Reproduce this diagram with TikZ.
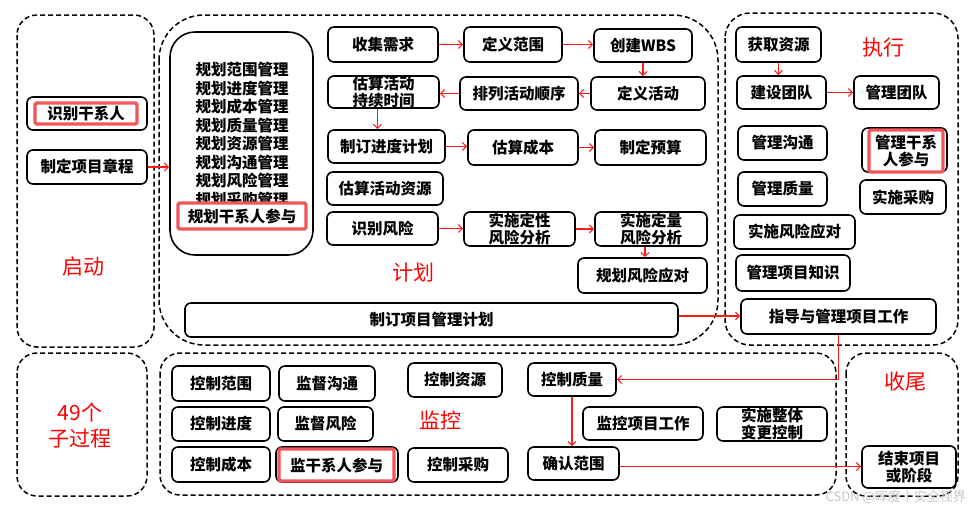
\documentclass[tikz,border=0pt]{standalone}
\usepackage{fontspec}
\setmainfont{Noto Sans CJK SC}
\usetikzlibrary{arrows.meta}
\definecolor{hlred}{HTML}{F0565A}
\definecolor{arr}{HTML}{FF1A1A}
\newcommand\fs{\fontsize{15.5}{17}\selectfont\bfseries}
\newcommand\mybox[7]{\node[#1, minimum width={#5-#3}, minimum height={#6-#4}] (#2) at ({(#3+#5)/2},{(#4+#6)/2}) {#7};}
\tikzset{
  box/.style={draw=black, line width=1.6pt, rounded corners=6pt, inner sep=0pt, align=center, font=\fs},
  hl/.style={draw=hlred, line width=3.2pt, rounded corners=1.5pt, fill=white, inner sep=0pt, align=center, font=\fs},
  frame/.style={draw=black, line width=1.6pt, rounded corners=6pt, inner sep=0pt},
  grp/.style={draw=black, line width=1.5pt, dash pattern=on 5pt off 3pt},
  lbl/.style={text=red, font=\fontsize{21}{25}\selectfont},
  arrow/.style={draw=arr, line width=1.1pt, -{Straight Barb[length=4pt,width=8pt]}},
}
\begin{document}
\begin{tikzpicture}[x=1pt, y=-1pt]
\useasboundingbox (0,0) rectangle (969,504);
\fill[white] (0,0) rectangle (969,504);

% ---------- groups ----------
\draw[grp, rounded corners=20pt] (17,15) rectangle (154,347);
\draw[grp, rounded corners=45pt] (159,15) rectangle (718,345);
\draw[grp, rounded corners=25pt] (725,13) rectangle (958,345);
\draw[grp, rounded corners=20pt] (17,353) rectangle (147,496);
\draw[grp, rounded corners=20pt] (160,353) rectangle (836,495);
\draw[grp, rounded corners=20pt] (846,353) rectangle (958,496);

% ---------- labels ----------
\node[lbl] (lstart) at (83,267) {启动};
\node[lbl] (lplan) at (413,273) {计划};
\node[lbl] (lexec) at (883,48) {执行};
\node[lbl, align=center, font=\fontsize{21}{26}\selectfont] (l49) at (80,426) {49个\\子过程};
\node[lbl] (lmon) at (440,420) {监控};
\node[lbl] (lclose) at (905,382) {收尾};

% ---------- start ----------
\mybox{frame}{s1f}{27}{97}{147}{130}{}
\mybox{hl}{s1}{35}{103}{137}{124}{识别干系人}
\mybox{box}{s2}{27}{150}{147}{184}{制定项目章程}

% ---------- planning ----------
\node[frame, minimum width=143, minimum height=223, rounded corners=25pt] (plist) at (241.5,143.5) {};
\node[align=center, inner sep=0pt, font=\fontsize{15.5}{18.5}\selectfont\bfseries] (plisttext) at (242,134.5)
  {规划范围管理\\规划进度管理\\规划成本管理\\规划质量管理\\规划资源管理\\规划沟通管理\\规划风险管理\\规划采购管理};
\mybox{hl}{ph}{178}{203}{306}{229}{规划干系人参与}

\mybox{box}{p1}{328}{27}{438}{62}{收集需求}
\mybox{box}{p2}{464}{27}{562}{62}{定义范围}
\mybox{box}{p3}{594}{29}{692}{62}{创建WBS}
\mybox{box}{p4}{328}{76}{439}{108}{估算活动\\持续时间}
\mybox{box}{p5}{460}{77}{578}{110}{排列活动顺序}
\mybox{box}{p6}{591}{77}{705}{110}{定义活动}
\mybox{box}{p7}{328}{130}{445}{163}{制订进度计划}
\mybox{box}{p8}{468}{130}{578}{165}{估算成本}
\mybox{box}{p9}{595}{130}{706}{165}{制定预算}
\mybox{box}{p10}{327}{172}{443}{205}{估算活动资源}
\mybox{box}{p11}{327}{212}{438}{245}{识别风险}
\mybox{box}{p12}{464}{212}{575}{246}{实施定性\\风险分析}
\mybox{box}{p13}{595}{212}{707}{246}{实施定量\\风险分析}
\mybox{box}{p14}{578}{258}{707}{293}{规划风险应对}
\mybox{box}{p15}{185}{303}{678}{337}{制订项目管理计划}

% ---------- execution ----------
\mybox{box}{e1}{736}{27}{821}{62}{获取资源}
\mybox{box}{e2}{737}{76}{826}{109}{建设团队}
\mybox{box}{e3}{854}{76}{939}{109}{管理团队}
\mybox{box}{e4}{738}{126}{827}{160}{管理沟通}
\mybox{frame}{e5f}{862}{128}{947}{172}{}
\mybox{hl}{e5}{869}{130}{943}{172}{管理干系\\人参与}
\mybox{box}{e6}{738}{172}{827}{206}{管理质量}
\mybox{box}{e7}{860}{180}{946}{214}{实施采购}
\mybox{box}{e8}{734}{215}{855}{249}{实施风险应对}
\mybox{box}{e9}{736}{255}{850}{291}{管理项目知识}
\mybox{box}{e11}{741}{299}{936}{334}{指导与管理项目工作}

% ---------- monitoring ----------
\mybox{box}{m1}{172}{366}{270}{401}{控制范围}
\mybox{box}{m2}{279}{366}{375}{401}{监督沟通}
\mybox{box}{m3}{172}{407}{270}{441}{控制进度}
\mybox{box}{m4}{278}{407}{373}{441}{监督风险}
\mybox{box}{m5}{172}{447}{270}{482}{控制成本}
\mybox{frame}{m6f}{276}{447}{398}{482}{}
\mybox{hl}{m6}{279}{449}{394}{481}{监干系人参与}
\mybox{box}{m7}{408}{363}{502}{397}{控制资源}
\mybox{box}{m8}{528}{363}{616}{396}{控制质量}
\mybox{box}{m9}{583}{407}{703}{440}{监控项目工作}
\mybox{box}{m10}{717}{407}{827}{441}{实施整体\\变更控制}
\mybox{box}{m11}{408}{448}{508}{482}{控制采购}
\mybox{box}{m12}{528}{447}{619}{480}{确认范围}

% ---------- closing ----------
\mybox{box}{c1}{862}{446}{956}{488}{结束项目\\或阶段}

% ---------- arrows ----------
\draw[arrow] (s2.east) -- (s2.east -| plist.west);
\draw[arrow] (p1.east) -- (p2.west);
\draw[arrow] (p2.east) -- (p2.east -| p3.west);
\draw[arrow] (p3.south) -- (p3.south |- p6.north);
\draw[arrow] (p6.west) -- (p6.west -| p5.east);
\draw[arrow] (p5.west) -- (p5.west -| p4.east);
\draw[arrow] ([xshift=-6pt]p4.south) -- ([xshift=-6pt]p4.south |- p7.north);
\draw[arrow] (p7.east) -- (p7.east -| p8.west);
\draw[arrow] (p8.east) -- (p8.east -| p9.west);
\draw[arrow] (p11.east) -- (p11.east -| p12.west);
\draw[arrow] (p12.east) -- (p12.east -| p13.west);
\draw[arrow] ([xshift=-6pt]p13.south) -- ([xshift=-6pt]p13.south |- p14.north);
\draw[arrow] ([yshift=4pt]p15.east) -- ([yshift=4pt]p15.east -| e11.west);
\draw[arrow] (e1.south) -- (e1.south |- e2.north);
\draw[arrow] (e2.east) -- (e2.east -| e3.west);
\draw[arrow] (e11.south) |- (m8.east);
\draw[arrow] (m8.south) -- (m8.south |- m12.north);
\draw[arrow] ([yshift=-3pt]m12.east) -- ([yshift=-3pt]m12.east -| c1.west);

% ---------- watermark ----------
\node[text=black!22, anchor=east, inner sep=0pt, font=\fontsize{13}{13}\selectfont] (wm) at (966,497) {CSDN @晖度丨安全视界};
\end{tikzpicture}
\end{document}
